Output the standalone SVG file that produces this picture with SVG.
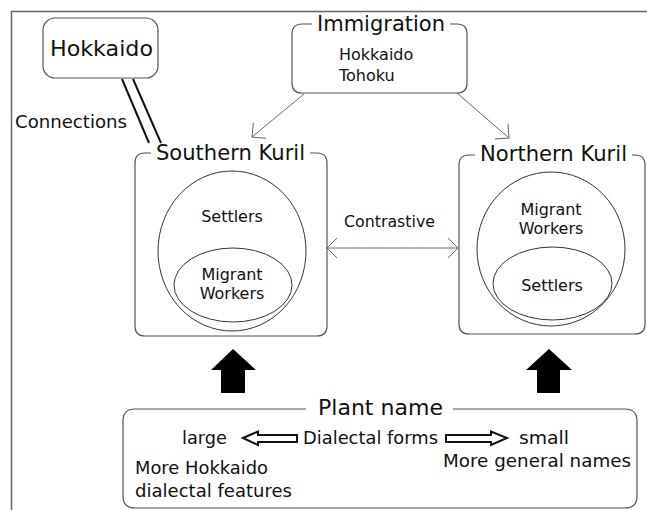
<svg xmlns="http://www.w3.org/2000/svg" width="647" height="510" viewBox="0 0 647 510">
<style>
text{font-family:"DejaVu Sans","Liberation Sans",sans-serif;fill:#111}
.box{fill:none;stroke:#555;stroke-width:1.2}
.ell{fill:none;stroke:#333;stroke-width:1}
.thin{fill:none;stroke:#666;stroke-width:1}
.t21{font-size:21px}
.t16{font-size:16px}
.t18{font-size:18px}
.mid{text-anchor:middle}
.hollow{fill:#fff;stroke:#111;stroke-width:2;stroke-linejoin:miter}
</style>
<defs>
<marker id="open" markerUnits="userSpaceOnUse" markerWidth="30" markerHeight="30" refX="0" refY="0" viewBox="-15 -15 30 30" orient="auto-start-reverse" overflow="visible">
<path d="M-10,-10 L0,0 L-10,10" fill="none" stroke="#666" stroke-width="1"/>
</marker>
</defs>
<rect width="647" height="510" fill="#fff"/>
<path d="M11.5,510 V11.5 H647" fill="none" stroke="#666" stroke-width="1.5"/>

<g id="connectors">
<line x1="122" y1="79" x2="149" y2="143" stroke="#111" stroke-width="2"/>
<line x1="133" y1="79" x2="161" y2="143" stroke="#111" stroke-width="2"/>
<line class="thin" x1="304" y1="94" x2="252" y2="137" marker-end="url(#open)"/>
<line class="thin" x1="457" y1="93" x2="509" y2="138" marker-end="url(#open)"/>
<line class="thin" x1="327" y1="248" x2="458" y2="248" marker-start="url(#open)" marker-end="url(#open)"/>
<polygon points="233,349 256,370 245,370 245,393 221,393 221,370 211,370" fill="#000"/>
<polygon points="549,349 572,370 560,370 560,393 537,393 537,370 526,370" fill="#000"/>
</g>

<g id="connections-label">
<text class="t18" x="15" y="128" textLength="112" lengthAdjust="spacingAndGlyphs">Connections</text>
</g>
<g id="contrastive-label">
<text class="t16" x="344" y="227" textLength="91" lengthAdjust="spacingAndGlyphs">Contrastive</text>
</g>

<g id="hokkaido">
<rect class="box" x="43" y="18" width="115" height="60" rx="12"/>
<text class="t21" x="50" y="56" textLength="103" lengthAdjust="spacingAndGlyphs">Hokkaido</text>
</g>

<g id="immigration">
<path class="box" d="M312,24 H302 Q292,24 292,34 V83 Q292,93 302,93 H457 Q467,93 467,83 V34 Q467,24 457,24 H450"/>
<text class="t21" x="317" y="31" textLength="128" lengthAdjust="spacingAndGlyphs">Immigration</text>
<text class="t16" x="339" y="60">Hokkaido</text>
<text class="t16" x="339" y="81">Tohoku</text>
</g>

<g id="southern-kuril">
<path class="box" d="M151,153 H145 Q135,153 135,163 V326 Q135,336 145,336 H317 Q327,336 327,326 V163 Q327,153 317,153 H310"/>
<text class="t21" x="156" y="160" textLength="149" lengthAdjust="spacingAndGlyphs">Southern Kuril</text>
<ellipse class="ell" cx="232" cy="251" rx="74" ry="80"/>
<ellipse class="ell" cx="233" cy="285" rx="59" ry="37"/>
<text class="t16 mid" x="232" y="222">Settlers</text>
<text class="t16 mid" x="232" y="280">Migrant</text>
<text class="t16 mid" x="232" y="299">Workers</text>
</g>

<g id="northern-kuril">
<path class="box" d="M475,155 H469 Q459,155 459,165 V324 Q459,334 469,334 H635 Q645,334 645,324 V165 Q645,155 635,155 H632"/>
<text class="t21" x="480" y="161" textLength="147" lengthAdjust="spacingAndGlyphs">Northern Kuril</text>
<ellipse class="ell" cx="551" cy="249" rx="74" ry="77"/>
<ellipse class="ell" cx="552.5" cy="283.5" rx="59.5" ry="36.5"/>
<text class="t16 mid" x="551" y="215">Migrant</text>
<text class="t16 mid" x="551" y="234">Workers</text>
<text class="t16 mid" x="552" y="291">Settlers</text>
</g>

<g id="plant-name">
<path class="box" d="M306,409 H135 Q123,409 123,421 V496 Q123,508 135,508 H625 Q637,508 637,496 V421 Q637,409 625,409 H453"/>
<text class="t21" x="318" y="415" textLength="125" lengthAdjust="spacingAndGlyphs">Plant name</text>
<text class="t18" x="182" y="444" textLength="45" lengthAdjust="spacingAndGlyphs">large</text>
<polygon class="hollow" points="243,438 258,431.5 258,435 297,435 297,442 258,442 258,445 "/>
<text class="t18" x="303" y="444" textLength="135" lengthAdjust="spacingAndGlyphs">Dialectal forms</text>
<polygon class="hollow" points="446,435 491,435 491,431.5 507,438 491,445 491,442 446,442"/>
<text class="t18" x="519" y="444" textLength="50" lengthAdjust="spacingAndGlyphs">small</text>
<text class="t18" x="135" y="474" textLength="133" lengthAdjust="spacingAndGlyphs">More Hokkaido</text>
<text class="t18" x="135" y="497" textLength="157" lengthAdjust="spacingAndGlyphs">dialectal features</text>
<text class="t18" x="443" y="467" textLength="188" lengthAdjust="spacingAndGlyphs">More general names</text>
</g>
</svg>
